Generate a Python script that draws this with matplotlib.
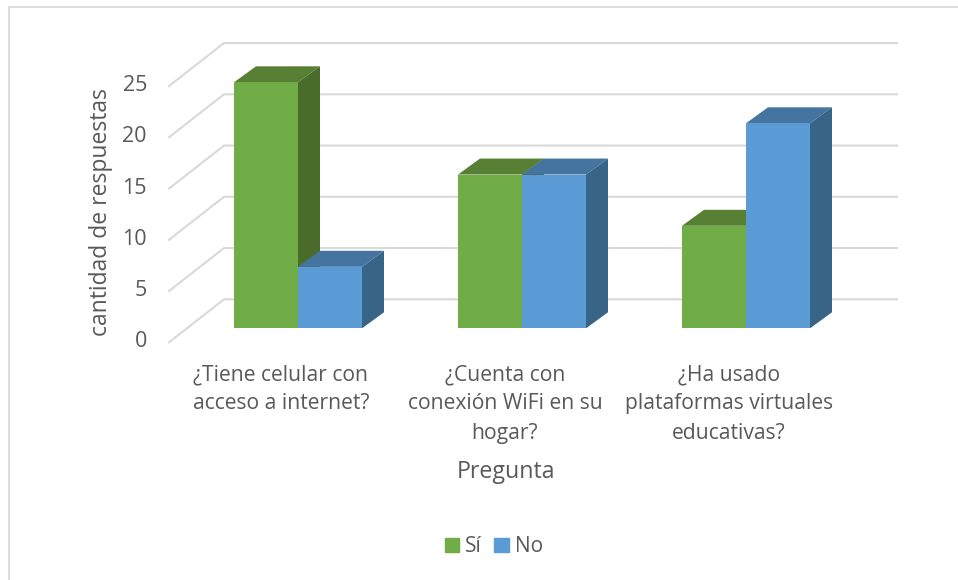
import matplotlib.pyplot as plt
from matplotlib.patches import Patch, Polygon

plt.rcParams["font.family"] = ["Open Sans", "DejaVu Sans"]

categories = ["¿Tiene celular con\nacceso a internet?",
              "¿Cuenta con\nconexión WiFi en su\nhogar?",
              "¿Ha usado\nplataformas virtuales\neducativas?"]
si = [24, 15, 10]
no = [6, 15, 20]
y_ticks = [0, 5, 10, 15, 20, 25]

W, H = 958, 580
X0, X_UNIT = 298, 224   # pixel of first category, pixels per category
Y0, Y_UNIT = 328.3, 10.25  # pixel of value 0, pixels per answer
TEXT = "#595959"
GREEN = ("#70AD47", "#588035", "#4A6C2B")
BLUE = ("#5B9BD5", "#44749F", "#386488")

fig = plt.figure(figsize=(W / 100, H / 100), dpi=100)
ax = fig.add_axes([0, 0, 1, 1])
ax.set_xlim(-X0 / X_UNIT, (W - X0) / X_UNIT)
ax.set_ylim((Y0 - H) / Y_UNIT, Y0 / Y_UNIT)
ax.axis("off")

# 3d depth of the bars and of the floor, in data units
bar_w = 64 / X_UNIT
dx, dy = 22 / X_UNIT, 16 / Y_UNIT
front_x, front_y = -129 / X_UNIT, -14 / Y_UNIT
back_x, back_y = -74 / X_UNIT, 29 / Y_UNIT
right_x = 599 / X_UNIT

# chart border, only left and top fall inside the picture
ax.plot([-289 / X_UNIT, -289 / X_UNIT, 660 / X_UNIT], [(Y0 - H) / Y_UNIT, (Y0 - 7.5) / Y_UNIT, (Y0 - 7.5) / Y_UNIT],
        color="#D9D9D9", lw=1.3, solid_joinstyle="miter", zorder=1)

for v in y_ticks:
    ax.plot([front_x, back_x, right_x], [v + front_y, v + back_y, v + back_y],
            color="#D9D9D9", lw=1.5, solid_joinstyle="miter", zorder=1)
    ax.text(-151 / X_UNIT, v + front_y + 0.05, str(v), ha="right", va="center",
            color=TEXT, fontsize=15.5)


def bar3d(x, v, colors, z):
    ax.fill([x, x + bar_w, x + bar_w, x], [0, 0, v, v], fc=colors[0], ec="none", zorder=z + 0.2)
    ax.add_patch(Polygon([(x, v), (x + bar_w, v), (x + bar_w + dx, v + dy), (x + dx, v + dy)],
                         fc=colors[1], ec="none", zorder=z))
    ax.add_patch(Polygon([(x + bar_w, 0), (x + bar_w + dx, dy), (x + bar_w + dx, v + dy), (x + bar_w, v)],
                         fc=colors[2], ec="none", zorder=z + 0.1))


for i in range(len(categories)):
    bar3d(i - bar_w, si[i], GREEN, 2)
    bar3d(i, no[i], BLUE, 3)
    ax.text(i - 17 / X_UNIT, -3.5, categories[i], ha="center", va="top",
            color=TEXT, fontsize=15.2, linespacing=1.52)

ax.text(0.93, -14.05, "Pregunta", ha="center", va="center", color=TEXT, fontsize=16.7)
ax.text(-197 / X_UNIT, 11.3, "cantidad de respuestas", rotation=90, ha="center", va="center",
        color=TEXT, fontsize=16.5)

handles = [Patch(color=GREEN[0], label="Sí"), Patch(color=BLUE[0], label="No")]
ax.legend(handles=handles, ncol=2, loc="center", bbox_to_anchor=(0.5155, 0.057), frameon=False,
          fontsize=15, labelcolor=TEXT, handlelength=0.68, handleheight=0.68,
          handletextpad=0.3, columnspacing=0.6)

fig.savefig("out.png", dpi=100)
